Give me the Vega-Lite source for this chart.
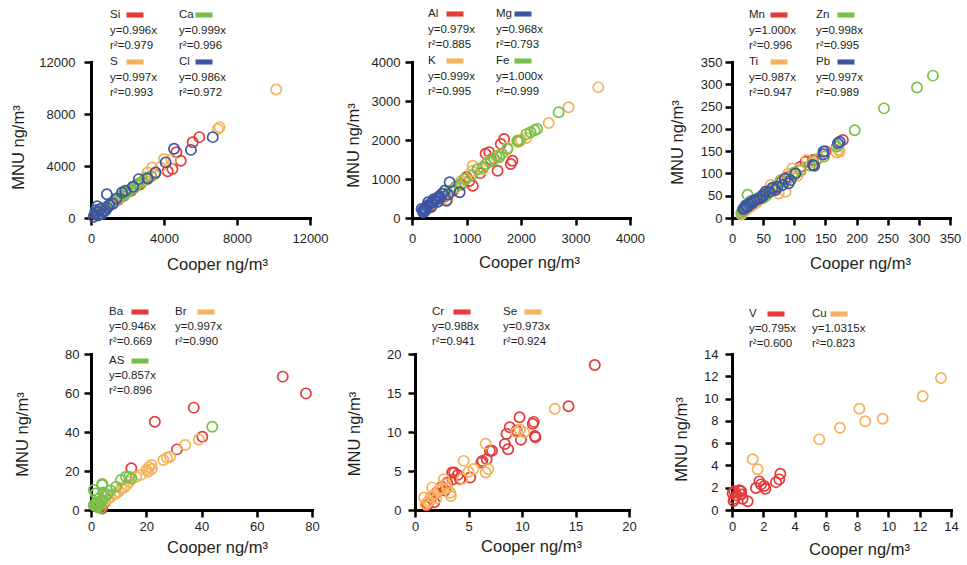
{
"$schema": "https://vega.github.io/schema/vega-lite/v6.json",
"padding": {"left": 10, "top": 8, "right": 5, "bottom": 5},
"bounds": "flush",
"spacing": 292,
"datasets": {
"pts": [
{"p":1,"el":"Si","x":5935,"y":6220},{"p":1,"el":"Si","x":5570,"y":5830},{"p":1,"el":"Si","x":4680,"y":5060},{"p":1,"el":"Si","x":4920,"y":4410},{"p":1,"el":"Si","x":4460,"y":3770},{"p":1,"el":"Si","x":4200,"y":3600},{"p":1,"el":"Si","x":3500,"y":3400},{"p":1,"el":"Si","x":3100,"y":3000},{"p":1,"el":"Si","x":2700,"y":2600},{"p":1,"el":"Si","x":2200,"y":2100},{"p":1,"el":"Si","x":1800,"y":1700},{"p":1,"el":"Si","x":1500,"y":1400},{"p":1,"el":"Si","x":1100,"y":1050},{"p":1,"el":"Si","x":800,"y":700},{"p":1,"el":"Si","x":500,"y":450},{"p":1,"el":"Si","x":300,"y":250},
{"p":1,"el":"S","x":10150,"y":9880},{"p":1,"el":"S","x":7040,"y":6990},{"p":1,"el":"S","x":6950,"y":6850},{"p":1,"el":"S","x":4400,"y":4500},{"p":1,"el":"S","x":4000,"y":4540},{"p":1,"el":"S","x":3800,"y":3900},{"p":1,"el":"S","x":3350,"y":3890},{"p":1,"el":"S","x":3100,"y":3500},{"p":1,"el":"S","x":2900,"y":2950},{"p":1,"el":"S","x":2000,"y":2050},{"p":1,"el":"S","x":1500,"y":1450},{"p":1,"el":"S","x":1000,"y":1000},{"p":1,"el":"S","x":700,"y":650},{"p":1,"el":"S","x":400,"y":400},
{"p":1,"el":"Ca","x":3300,"y":3200},{"p":1,"el":"Ca","x":3000,"y":3120},{"p":1,"el":"Ca","x":2800,"y":2750},{"p":1,"el":"Ca","x":2600,"y":2650},{"p":1,"el":"Ca","x":2500,"y":2550},{"p":1,"el":"Ca","x":2400,"y":2350},{"p":1,"el":"Ca","x":2200,"y":2250},{"p":1,"el":"Ca","x":2000,"y":2000},{"p":1,"el":"Ca","x":1900,"y":1900},{"p":1,"el":"Ca","x":1800,"y":1750},{"p":1,"el":"Ca","x":1600,"y":1650},{"p":1,"el":"Ca","x":1400,"y":1400},{"p":1,"el":"Ca","x":1300,"y":1300},{"p":1,"el":"Ca","x":1200,"y":1250},{"p":1,"el":"Ca","x":1000,"y":950},{"p":1,"el":"Ca","x":800,"y":850},{"p":1,"el":"Ca","x":600,"y":600},{"p":1,"el":"Ca","x":400,"y":420},
{"p":1,"el":"Cl","x":6670,"y":6220},{"p":1,"el":"Cl","x":5475,"y":5240},{"p":1,"el":"Cl","x":4550,"y":5320},{"p":1,"el":"Cl","x":4090,"y":4280},{"p":1,"el":"Cl","x":3540,"y":3510},{"p":1,"el":"Cl","x":3100,"y":3050},{"p":1,"el":"Cl","x":2620,"y":2990},{"p":1,"el":"Cl","x":2300,"y":2400},{"p":1,"el":"Cl","x":1880,"y":2090},{"p":1,"el":"Cl","x":1700,"y":1960},{"p":1,"el":"Cl","x":1400,"y":1500},{"p":1,"el":"Cl","x":1200,"y":1100},{"p":1,"el":"Cl","x":1000,"y":1000},{"p":1,"el":"Cl","x":870,"y":1830},{"p":1,"el":"Cl","x":900,"y":800},{"p":1,"el":"Cl","x":800,"y":600},{"p":1,"el":"Cl","x":700,"y":500},{"p":1,"el":"Cl","x":500,"y":700},{"p":1,"el":"Cl","x":350,"y":900},{"p":1,"el":"Cl","x":250,"y":600},{"p":1,"el":"Cl","x":300,"y":450},{"p":1,"el":"Cl","x":600,"y":300},{"p":1,"el":"Cl","x":400,"y":200},{"p":1,"el":"Cl","x":200,"y":300},{"p":1,"el":"Cl","x":150,"y":100},
{"p":2,"el":"Al","x":1690,"y":2026},{"p":2,"el":"Al","x":1630,"y":1900},{"p":2,"el":"Al","x":1418,"y":1684},{"p":2,"el":"Al","x":1350,"y":1650},{"p":2,"el":"Al","x":1842,"y":1470},{"p":2,"el":"Al","x":1812,"y":1385},{"p":2,"el":"Al","x":1570,"y":1213},{"p":2,"el":"Al","x":1450,"y":1500},{"p":2,"el":"Al","x":1250,"y":1150},{"p":2,"el":"Al","x":1115,"y":828},{"p":2,"el":"Al","x":1050,"y":950},{"p":2,"el":"Al","x":1000,"y":1050},{"p":2,"el":"Al","x":900,"y":850},{"p":2,"el":"Al","x":750,"y":700},{"p":2,"el":"Al","x":600,"y":550},{"p":2,"el":"Al","x":500,"y":500},{"p":2,"el":"Al","x":450,"y":400},{"p":2,"el":"Al","x":350,"y":300},{"p":2,"el":"Al","x":300,"y":280},{"p":2,"el":"Al","x":250,"y":200},
{"p":2,"el":"K","x":3418,"y":3350},{"p":2,"el":"K","x":2873,"y":2838},{"p":2,"el":"K","x":2509,"y":2436},{"p":2,"el":"K","x":2100,"y":2050},{"p":2,"el":"K","x":2000,"y":2000},{"p":2,"el":"K","x":1950,"y":1950},{"p":2,"el":"K","x":1750,"y":1800},{"p":2,"el":"K","x":1600,"y":1600},{"p":2,"el":"K","x":1400,"y":1450},{"p":2,"el":"K","x":1300,"y":1250},{"p":2,"el":"K","x":1115,"y":1342},{"p":2,"el":"K","x":1100,"y":1200},{"p":2,"el":"K","x":1000,"y":1000},{"p":2,"el":"K","x":900,"y":950},{"p":2,"el":"K","x":800,"y":780},{"p":2,"el":"K","x":650,"y":600},{"p":2,"el":"K","x":650,"y":480},{"p":2,"el":"K","x":500,"y":500},{"p":2,"el":"K","x":400,"y":380},{"p":2,"el":"K","x":300,"y":320},
{"p":2,"el":"Fe","x":2691,"y":2710},{"p":2,"el":"Fe","x":2297,"y":2282},{"p":2,"el":"Fe","x":2250,"y":2250},{"p":2,"el":"Fe","x":2176,"y":2197},{"p":2,"el":"Fe","x":2100,"y":2150},{"p":2,"el":"Fe","x":1964,"y":1983},{"p":2,"el":"Fe","x":1933,"y":1983},{"p":2,"el":"Fe","x":1751,"y":1769},{"p":2,"el":"Fe","x":1650,"y":1650},{"p":2,"el":"Fe","x":1600,"y":1560},{"p":2,"el":"Fe","x":1550,"y":1600},{"p":2,"el":"Fe","x":1509,"y":1513},{"p":2,"el":"Fe","x":1450,"y":1450},{"p":2,"el":"Fe","x":1357,"y":1385},{"p":2,"el":"Fe","x":1300,"y":1300},{"p":2,"el":"Fe","x":1200,"y":1250},{"p":2,"el":"Fe","x":1100,"y":1100},{"p":2,"el":"Fe","x":964,"y":1000},{"p":2,"el":"Fe","x":900,"y":880},{"p":2,"el":"Fe","x":800,"y":800},{"p":2,"el":"Fe","x":700,"y":700},{"p":2,"el":"Fe","x":600,"y":620},
{"p":2,"el":"Mg","x":691,"y":915},{"p":2,"el":"Mg","x":873,"y":659},{"p":2,"el":"Mg","x":631,"y":444},{"p":2,"el":"Mg","x":660,"y":600},{"p":2,"el":"Mg","x":600,"y":700},{"p":2,"el":"Mg","x":550,"y":620},{"p":2,"el":"Mg","x":520,"y":520},{"p":2,"el":"Mg","x":500,"y":560},{"p":2,"el":"Mg","x":480,"y":420},{"p":2,"el":"Mg","x":450,"y":500},{"p":2,"el":"Mg","x":420,"y":450},{"p":2,"el":"Mg","x":400,"y":480},{"p":2,"el":"Mg","x":380,"y":400},{"p":2,"el":"Mg","x":350,"y":380},{"p":2,"el":"Mg","x":350,"y":280},{"p":2,"el":"Mg","x":300,"y":330},{"p":2,"el":"Mg","x":297,"y":402},{"p":2,"el":"Mg","x":270,"y":300},{"p":2,"el":"Mg","x":250,"y":250},{"p":2,"el":"Mg","x":230,"y":220},{"p":2,"el":"Mg","x":220,"y":160},{"p":2,"el":"Mg","x":206,"y":146},{"p":2,"el":"Mg","x":200,"y":190},{"p":2,"el":"Mg","x":176,"y":231},
{"p":3,"el":"Mn","x":178,"y":175},{"p":3,"el":"Mn","x":150,"y":150},{"p":3,"el":"Mn","x":130,"y":130},{"p":3,"el":"Mn","x":118,"y":126},{"p":3,"el":"Mn","x":110,"y":115},{"p":3,"el":"Mn","x":100,"y":98},{"p":3,"el":"Mn","x":90,"y":92},{"p":3,"el":"Mn","x":80,"y":82},{"p":3,"el":"Mn","x":70,"y":68},{"p":3,"el":"Mn","x":65,"y":63},{"p":3,"el":"Mn","x":60,"y":60},{"p":3,"el":"Mn","x":55,"y":55},{"p":3,"el":"Mn","x":50,"y":48},{"p":3,"el":"Mn","x":45,"y":44},{"p":3,"el":"Mn","x":40,"y":40},{"p":3,"el":"Mn","x":35,"y":36},{"p":3,"el":"Mn","x":30,"y":30},{"p":3,"el":"Mn","x":25,"y":27},{"p":3,"el":"Mn","x":22,"y":22},{"p":3,"el":"Mn","x":18,"y":18},
{"p":3,"el":"Ti","x":171,"y":153},{"p":3,"el":"Ti","x":168,"y":147},{"p":3,"el":"Ti","x":173,"y":149},{"p":3,"el":"Ti","x":140,"y":135},{"p":3,"el":"Ti","x":130,"y":125},{"p":3,"el":"Ti","x":120,"y":130},{"p":3,"el":"Ti","x":110,"y":105},{"p":3,"el":"Ti","x":105,"y":95},{"p":3,"el":"Ti","x":97,"y":111},{"p":3,"el":"Ti","x":90,"y":100},{"p":3,"el":"Ti","x":86,"y":82},{"p":3,"el":"Ti","x":86,"y":59},{"p":3,"el":"Ti","x":75,"y":55},{"p":3,"el":"Ti","x":62,"y":74},{"p":3,"el":"Ti","x":55,"y":60},{"p":3,"el":"Ti","x":48,"y":45},{"p":3,"el":"Ti","x":40,"y":35},{"p":3,"el":"Ti","x":35,"y":30},{"p":3,"el":"Ti","x":30,"y":25},{"p":3,"el":"Ti","x":25,"y":20},{"p":3,"el":"Ti","x":20,"y":15},{"p":3,"el":"Ti","x":17,"y":11},{"p":3,"el":"Ti","x":15,"y":8},
{"p":3,"el":"Zn","x":322.6,"y":319.4},{"p":3,"el":"Zn","x":297,"y":293},{"p":3,"el":"Zn","x":244,"y":246},{"p":3,"el":"Zn","x":197,"y":197},{"p":3,"el":"Zn","x":171,"y":164},{"p":3,"el":"Zn","x":168,"y":160},{"p":3,"el":"Zn","x":148,"y":138},{"p":3,"el":"Zn","x":135,"y":130},{"p":3,"el":"Zn","x":125,"y":118},{"p":3,"el":"Zn","x":110,"y":108},{"p":3,"el":"Zn","x":100,"y":102},{"p":3,"el":"Zn","x":90,"y":88},{"p":3,"el":"Zn","x":78,"y":85},{"p":3,"el":"Zn","x":70,"y":72},{"p":3,"el":"Zn","x":60,"y":62},{"p":3,"el":"Zn","x":55,"y":50},{"p":3,"el":"Zn","x":50,"y":45},{"p":3,"el":"Zn","x":45,"y":48},{"p":3,"el":"Zn","x":40,"y":42},{"p":3,"el":"Zn","x":35,"y":35},{"p":3,"el":"Zn","x":30,"y":38},{"p":3,"el":"Zn","x":25,"y":52},{"p":3,"el":"Zn","x":25,"y":28},{"p":3,"el":"Zn","x":20,"y":20},{"p":3,"el":"Zn","x":18,"y":15},{"p":3,"el":"Zn","x":15,"y":12},
{"p":3,"el":"Pb","x":173,"y":171},{"p":3,"el":"Pb","x":170,"y":168},{"p":3,"el":"Pb","x":147,"y":149},{"p":3,"el":"Pb","x":147,"y":143},{"p":3,"el":"Pb","x":132,"y":117},{"p":3,"el":"Pb","x":130,"y":119},{"p":3,"el":"Pb","x":102,"y":100},{"p":3,"el":"Pb","x":94,"y":85},{"p":3,"el":"Pb","x":91,"y":78},{"p":3,"el":"Pb","x":85,"y":88},{"p":3,"el":"Pb","x":81,"y":74},{"p":3,"el":"Pb","x":73,"y":70},{"p":3,"el":"Pb","x":70,"y":63},{"p":3,"el":"Pb","x":65,"y":68},{"p":3,"el":"Pb","x":60,"y":58},{"p":3,"el":"Pb","x":54,"y":59},{"p":3,"el":"Pb","x":50,"y":52},{"p":3,"el":"Pb","x":49,"y":48},{"p":3,"el":"Pb","x":45,"y":44},{"p":3,"el":"Pb","x":40,"y":42},{"p":3,"el":"Pb","x":36,"y":40},{"p":3,"el":"Pb","x":35,"y":38},{"p":3,"el":"Pb","x":32,"y":33},{"p":3,"el":"Pb","x":30,"y":35},{"p":3,"el":"Pb","x":28,"y":30},{"p":3,"el":"Pb","x":25,"y":25},{"p":3,"el":"Pb","x":23,"y":25},{"p":3,"el":"Pb","x":22,"y":28},{"p":3,"el":"Pb","x":20,"y":22},{"p":3,"el":"Pb","x":18,"y":20},
{"p":4,"el":"Ba","x":69.4,"y":68.4},{"p":4,"el":"Ba","x":77.8,"y":59.8},{"p":4,"el":"Ba","x":37.2,"y":52.5},{"p":4,"el":"Ba","x":23.1,"y":45.3},{"p":4,"el":"Ba","x":40.3,"y":37.6},{"p":4,"el":"Ba","x":31.1,"y":31.1},{"p":4,"el":"Ba","x":14.6,"y":21.4},{"p":4,"el":"Ba","x":5.0,"y":4.0},{"p":4,"el":"Ba","x":3.5,"y":2.0},{"p":4,"el":"Ba","x":3.0,"y":3.0},{"p":4,"el":"Ba","x":2.5,"y":1.5},{"p":4,"el":"Ba","x":4.0,"y":0.8},
{"p":4,"el":"Br","x":39,"y":36.2},{"p":4,"el":"Br","x":34.1,"y":33.3},{"p":4,"el":"Br","x":28.6,"y":27.3},{"p":4,"el":"Br","x":27.5,"y":26.8},{"p":4,"el":"Br","x":26.2,"y":25.6},{"p":4,"el":"Br","x":21.9,"y":23.1},{"p":4,"el":"Br","x":21,"y":22},{"p":4,"el":"Br","x":22,"y":21},{"p":4,"el":"Br","x":20.7,"y":19.6},{"p":4,"el":"Br","x":20,"y":20.5},{"p":4,"el":"Br","x":18,"y":18},{"p":4,"el":"Br","x":16.4,"y":17.1},{"p":4,"el":"Br","x":14,"y":14.5},{"p":4,"el":"Br","x":13,"y":13},{"p":4,"el":"Br","x":12,"y":11.5},{"p":4,"el":"Br","x":11,"y":11},{"p":4,"el":"Br","x":10,"y":9.5},{"p":4,"el":"Br","x":9,"y":8.5},{"p":4,"el":"Br","x":8.5,"y":8},{"p":4,"el":"Br","x":7,"y":6.5},{"p":4,"el":"Br","x":6,"y":5.5},{"p":4,"el":"Br","x":5,"y":4.5},{"p":4,"el":"Br","x":4,"y":3.5},{"p":4,"el":"Br","x":3,"y":3},{"p":4,"el":"Br","x":2,"y":2},
{"p":4,"el":"AS","x":43.9,"y":42.7},{"p":4,"el":"AS","x":14.6,"y":16.2},{"p":4,"el":"AS","x":13.8,"y":17.1},{"p":4,"el":"AS","x":12.7,"y":17.1},{"p":4,"el":"AS","x":10.8,"y":15.4},{"p":4,"el":"AS","x":9.1,"y":12},{"p":4,"el":"AS","x":7,"y":10},{"p":4,"el":"AS","x":6,"y":8},{"p":4,"el":"AS","x":5,"y":7},{"p":4,"el":"AS","x":4.5,"y":9},{"p":4,"el":"AS","x":4.1,"y":13.3},{"p":4,"el":"AS","x":4,"y":12.8},{"p":4,"el":"AS","x":4,"y":5},{"p":4,"el":"AS","x":3.5,"y":1},{"p":4,"el":"AS","x":3,"y":6},{"p":4,"el":"AS","x":3,"y":3},{"p":4,"el":"AS","x":2.5,"y":1.5},{"p":4,"el":"AS","x":2,"y":4},{"p":4,"el":"AS","x":2,"y":3},{"p":4,"el":"AS","x":1.7,"y":8.5},{"p":4,"el":"AS","x":1.5,"y":2},{"p":4,"el":"AS","x":1,"y":2.5},{"p":4,"el":"AS","x":1.0,"y":10.3},
{"p":5,"el":"Cr","x":16.8,"y":18.6},{"p":5,"el":"Cr","x":14.35,"y":13.3},{"p":5,"el":"Cr","x":9.77,"y":11.9},{"p":5,"el":"Cr","x":11.0,"y":11.05},{"p":5,"el":"Cr","x":11.1,"y":11.3},{"p":5,"el":"Cr","x":8.85,"y":10.6},{"p":5,"el":"Cr","x":11.25,"y":9.33},{"p":5,"el":"Cr","x":11.2,"y":9.5},{"p":5,"el":"Cr","x":8.55,"y":9.76},{"p":5,"el":"Cr","x":9.5,"y":10.2},{"p":5,"el":"Cr","x":9.9,"y":9.0},{"p":5,"el":"Cr","x":8.4,"y":8.47},{"p":5,"el":"Cr","x":8.7,"y":7.8},{"p":5,"el":"Cr","x":7.0,"y":7.6},{"p":5,"el":"Cr","x":7.2,"y":7.6},{"p":5,"el":"Cr","x":6.7,"y":6.5},{"p":5,"el":"Cr","x":6.3,"y":6.3},{"p":5,"el":"Cr","x":6.2,"y":6.1},{"p":5,"el":"Cr","x":5.16,"y":4.17},{"p":5,"el":"Cr","x":4.2,"y":3.96},{"p":5,"el":"Cr","x":3.47,"y":4.81},{"p":5,"el":"Cr","x":3.66,"y":4.8},{"p":5,"el":"Cr","x":4.0,"y":4.5},{"p":5,"el":"Cr","x":3.5,"y":3.9},{"p":5,"el":"Cr","x":3.0,"y":3.5},{"p":5,"el":"Cr","x":2.8,"y":2.5},{"p":5,"el":"Cr","x":2.5,"y":3},{"p":5,"el":"Cr","x":2.0,"y":2.2},{"p":5,"el":"Cr","x":1.8,"y":1.0},{"p":5,"el":"Cr","x":1.5,"y":1.5},{"p":5,"el":"Cr","x":1.2,"y":0.8},{"p":5,"el":"Cr","x":1.1,"y":0.6},
{"p":5,"el":"Se","x":13.06,"y":12.99},{"p":5,"el":"Se","x":10.2,"y":9.97},{"p":5,"el":"Se","x":9.8,"y":10.3},{"p":5,"el":"Se","x":9.47,"y":9.97},{"p":5,"el":"Se","x":6.6,"y":8.5},{"p":5,"el":"Se","x":6.85,"y":5.25},{"p":5,"el":"Se","x":6.6,"y":4.8},{"p":5,"el":"Se","x":5.47,"y":5.25},{"p":5,"el":"Se","x":5.0,"y":4.9},{"p":5,"el":"Se","x":4.55,"y":6.3},{"p":5,"el":"Se","x":4.4,"y":4.0},{"p":5,"el":"Se","x":3.35,"y":1.8},{"p":5,"el":"Se","x":3.3,"y":2.2},{"p":5,"el":"Se","x":3.0,"y":2.8},{"p":5,"el":"Se","x":2.9,"y":3.3},{"p":5,"el":"Se","x":2.7,"y":3.96},{"p":5,"el":"Se","x":2.5,"y":2.8},{"p":5,"el":"Se","x":2.2,"y":2.5},{"p":5,"el":"Se","x":2.0,"y":1.5},{"p":5,"el":"Se","x":1.8,"y":2.0},{"p":5,"el":"Se","x":1.6,"y":2.9},{"p":5,"el":"Se","x":1.5,"y":1.7},{"p":5,"el":"Se","x":1.3,"y":1.2},{"p":5,"el":"Se","x":1.2,"y":1.0},{"p":5,"el":"Se","x":1.0,"y":0.73},{"p":5,"el":"Se","x":0.86,"y":1.6},
{"p":6,"el":"V","x":3.09,"y":3.26},{"p":6,"el":"V","x":3.02,"y":2.75},{"p":6,"el":"V","x":2.81,"y":2.5},{"p":6,"el":"V","x":1.75,"y":2.57},{"p":6,"el":"V","x":1.85,"y":2.3},{"p":6,"el":"V","x":2.06,"y":2.15},{"p":6,"el":"V","x":1.53,"y":1.97},{"p":6,"el":"V","x":2.13,"y":1.91},{"p":6,"el":"V","x":0.58,"y":1.68},{"p":6,"el":"V","x":0.15,"y":1.68},{"p":6,"el":"V","x":0.47,"y":1.77},{"p":6,"el":"V","x":0.04,"y":1.5},{"p":6,"el":"V","x":0.15,"y":1.01},{"p":6,"el":"V","x":0.68,"y":1.01},{"p":6,"el":"V","x":1.0,"y":0.78},{"p":6,"el":"V","x":0.3,"y":1.3},{"p":6,"el":"V","x":0.1,"y":0.8},{"p":6,"el":"V","x":0.6,"y":1.4},
{"p":6,"el":"Cu","x":13.36,"y":11.84},{"p":6,"el":"Cu","x":12.19,"y":10.2},{"p":6,"el":"Cu","x":8.14,"y":9.09},{"p":6,"el":"Cu","x":8.52,"y":7.96},{"p":6,"el":"Cu","x":9.63,"y":8.19},{"p":6,"el":"Cu","x":6.9,"y":7.38},{"p":6,"el":"Cu","x":5.58,"y":6.34},{"p":6,"el":"Cu","x":1.32,"y":4.55},{"p":6,"el":"Cu","x":1.64,"y":3.65}
],
"leg": [
{"p":1,"el":"Si","eq":"y=0.996x","r2":"r²=0.979","c":0,"r":0},{"p":1,"el":"Ca","eq":"y=0.999x","r2":"r²=0.996","c":1,"r":0},{"p":1,"el":"S","eq":"y=0.997x","r2":"r²=0.993","c":0,"r":1},{"p":1,"el":"Cl","eq":"y=0.986x","r2":"r²=0.972","c":1,"r":1},
{"p":2,"el":"Al","eq":"y=0.979x","r2":"r²=0.885","c":0,"r":0},{"p":2,"el":"Mg","eq":"y=0.968x","r2":"r²=0.793","c":1,"r":0},{"p":2,"el":"K","eq":"y=0.999x","r2":"r²=0.995","c":0,"r":1},{"p":2,"el":"Fe","eq":"y=1.000x","r2":"r²=0.999","c":1,"r":1},
{"p":3,"el":"Mn","eq":"y=1.000x","r2":"r²=0.996","c":0,"r":0},{"p":3,"el":"Zn","eq":"y=0.998x","r2":"r²=0.995","c":1,"r":0},{"p":3,"el":"Ti","eq":"y=0.987x","r2":"r²=0.947","c":0,"r":1},{"p":3,"el":"Pb","eq":"y=0.997x","r2":"r²=0.989","c":1,"r":1},
{"p":4,"el":"Ba","eq":"y=0.946x","r2":"r²=0.669","c":0,"r":0},{"p":4,"el":"Br","eq":"y=0.997x","r2":"r²=0.990","c":1,"r":0},{"p":4,"el":"AS","eq":"y=0.857x","r2":"r²=0.896","c":0,"r":1},
{"p":5,"el":"Cr","eq":"y=0.988x","r2":"r²=0.941","c":0,"r":0},{"p":5,"el":"Se","eq":"y=0.973x","r2":"r²=0.924","c":1,"r":0},
{"p":6,"el":"V","eq":"y=0.795x","r2":"r²=0.600","c":0,"r":0},{"p":6,"el":"Cu","eq":"y=1.0315x","r2":"r²=0.823","c":1,"r":0}
]
},
"vconcat": [
{"hconcat": [
{"width": 219, "height": 156, "resolve": {"scale": {"x": "independent", "y": "independent"}},
 "layer": [
  {"data": {"name": "pts"}, "transform": [{"filter": "datum.p == 1"}], "mark": {"type": "point", "filled": false, "size": 105, "strokeWidth": 1.7, "opacity": 1},
   "encoding": {"x": {"field": "x", "type": "quantitative", "scale": {"domain": [0, 12000], "nice": false}, "axis": {"values": [0, 4000, 8000, 12000], "format": "d", "title": "Cooper ng/m³", "titleX": 126, "titleY": 46, "titleBaseline": "middle", "labelPadding": 7}},
    "y": {"field": "y", "type": "quantitative", "scale": {"domain": [0, 12000], "nice": false}, "axis": {"values": [0, 4000, 8000, 12000], "format": "d", "title": "MNU ng/m³", "titleX": -73, "titleY": 85, "titleBaseline": "middle", "labelPadding": 9}},
    "color": {"field": "el", "type": "nominal", "scale": {"domain": ["Si","Ca","S","Cl","Al","Mg","K","Fe","Mn","Zn","Ti","Pb","Ba","Br","AS","Cr","Se","V","Cu"], "range": ["#e5393a","#7bbf4b","#f4b25b","#3c55a4","#e5393a","#3c55a4","#f4b25b","#7bbf4b","#e5393a","#7bbf4b","#f4b25b","#3c55a4","#e5393a","#f4b25b","#7bbf4b","#e5393a","#f4b25b","#e5393a","#f4b25b"]}, "legend": null}}},
  {"data": {"name": "leg"}, "transform": [{"filter": "datum.p == 1"}], "mark": {"type": "text", "align": "left", "baseline": "middle", "fontSize": 11.5, "font": "Liberation Sans", "color": "#231f20"},
   "encoding": {"x": {"field": "c", "type": "quantitative", "scale": {"domain": [0, 1], "range": [19, 88]}, "axis": null}, "y": {"field": "r", "type": "quantitative", "scale": {"domain": [0, 1], "range": [-47, 0]}, "axis": null}, "text": {"field": "el"}}},
  {"data": {"name": "leg"}, "transform": [{"filter": "datum.p == 1"}], "mark": {"type": "text", "align": "left", "baseline": "middle", "fontSize": 11.5, "font": "Liberation Sans", "color": "#231f20", "dy": 15.5},
   "encoding": {"x": {"field": "c", "type": "quantitative", "scale": {"domain": [0, 1], "range": [19, 88]}, "axis": null}, "y": {"field": "r", "type": "quantitative", "scale": {"domain": [0, 1], "range": [-47, 0]}, "axis": null}, "text": {"field": "eq"}}},
  {"data": {"name": "leg"}, "transform": [{"filter": "datum.p == 1"}], "mark": {"type": "text", "align": "left", "baseline": "middle", "fontSize": 11.5, "font": "Liberation Sans", "color": "#231f20", "dy": 31},
   "encoding": {"x": {"field": "c", "type": "quantitative", "scale": {"domain": [0, 1], "range": [19, 88]}, "axis": null}, "y": {"field": "r", "type": "quantitative", "scale": {"domain": [0, 1], "range": [-47, 0]}, "axis": null}, "text": {"field": "r2"}}},
  {"data": {"name": "leg"}, "transform": [{"filter": "datum.p == 1"}], "mark": {"type": "point", "shape": "M-1,-0.3L1,-0.3L1,0.3L-1,0.3Z", "size": 289, "filled": true, "opacity": 1, "strokeWidth": 0, "xOffset": 25},
   "encoding": {"x": {"field": "c", "type": "quantitative", "scale": {"domain": [0, 1], "range": [19, 88]}, "axis": null}, "y": {"field": "r", "type": "quantitative", "scale": {"domain": [0, 1], "range": [-47, 0]}, "axis": null},
    "color": {"field": "el", "type": "nominal", "scale": {"domain": ["Si","Ca","S","Cl","Al","Mg","K","Fe","Mn","Zn","Ti","Pb","Ba","Br","AS","Cr","Se","V","Cu"], "range": ["#e5393a","#7bbf4b","#f4b25b","#3c55a4","#e5393a","#3c55a4","#f4b25b","#7bbf4b","#e5393a","#7bbf4b","#f4b25b","#3c55a4","#e5393a","#f4b25b","#7bbf4b","#e5393a","#f4b25b","#e5393a","#f4b25b"]}, "legend": null}}}
 ]},
{"width": 218, "height": 156, "resolve": {"scale": {"x": "independent", "y": "independent"}},
 "layer": [
  {"data": {"name": "pts"}, "transform": [{"filter": "datum.p == 2"}], "mark": {"type": "point", "filled": false, "size": 105, "strokeWidth": 1.7, "opacity": 1},
   "encoding": {"x": {"field": "x", "type": "quantitative", "scale": {"domain": [0, 4000], "nice": false}, "axis": {"values": [0, 1000, 2000, 3000, 4000], "format": "d", "title": "Cooper ng/m³", "titleX": 117, "titleY": 44, "titleBaseline": "middle", "labelPadding": 7}},
    "y": {"field": "y", "type": "quantitative", "scale": {"domain": [0, 4000], "nice": false}, "axis": {"values": [0, 1000, 2000, 3000, 4000], "format": "d", "title": "MNU ng/m³", "titleX": -59, "titleY": 83, "titleBaseline": "middle", "labelPadding": 5}},
    "color": {"field": "el", "type": "nominal", "scale": {"domain": ["Si","Ca","S","Cl","Al","Mg","K","Fe","Mn","Zn","Ti","Pb","Ba","Br","AS","Cr","Se","V","Cu"], "range": ["#e5393a","#7bbf4b","#f4b25b","#3c55a4","#e5393a","#3c55a4","#f4b25b","#7bbf4b","#e5393a","#7bbf4b","#f4b25b","#3c55a4","#e5393a","#f4b25b","#7bbf4b","#e5393a","#f4b25b","#e5393a","#f4b25b"]}, "legend": null}}},
  {"data": {"name": "leg"}, "transform": [{"filter": "datum.p == 2"}], "mark": {"type": "text", "align": "left", "baseline": "middle", "fontSize": 11.5, "font": "Liberation Sans", "color": "#231f20"},
   "encoding": {"x": {"field": "c", "type": "quantitative", "scale": {"domain": [0, 1], "range": [16, 84]}, "axis": null}, "y": {"field": "r", "type": "quantitative", "scale": {"domain": [0, 1], "range": [-48, -1]}, "axis": null}, "text": {"field": "el"}}},
  {"data": {"name": "leg"}, "transform": [{"filter": "datum.p == 2"}], "mark": {"type": "text", "align": "left", "baseline": "middle", "fontSize": 11.5, "font": "Liberation Sans", "color": "#231f20", "dy": 15.5},
   "encoding": {"x": {"field": "c", "type": "quantitative", "scale": {"domain": [0, 1], "range": [16, 84]}, "axis": null}, "y": {"field": "r", "type": "quantitative", "scale": {"domain": [0, 1], "range": [-48, -1]}, "axis": null}, "text": {"field": "eq"}}},
  {"data": {"name": "leg"}, "transform": [{"filter": "datum.p == 2"}], "mark": {"type": "text", "align": "left", "baseline": "middle", "fontSize": 11.5, "font": "Liberation Sans", "color": "#231f20", "dy": 31},
   "encoding": {"x": {"field": "c", "type": "quantitative", "scale": {"domain": [0, 1], "range": [16, 84]}, "axis": null}, "y": {"field": "r", "type": "quantitative", "scale": {"domain": [0, 1], "range": [-48, -1]}, "axis": null}, "text": {"field": "r2"}}},
  {"data": {"name": "leg"}, "transform": [{"filter": "datum.p == 2"}], "mark": {"type": "point", "shape": "M-1,-0.3L1,-0.3L1,0.3L-1,0.3Z", "size": 289, "filled": true, "opacity": 1, "strokeWidth": 0, "xOffset": 27},
   "encoding": {"x": {"field": "c", "type": "quantitative", "scale": {"domain": [0, 1], "range": [16, 84]}, "axis": null}, "y": {"field": "r", "type": "quantitative", "scale": {"domain": [0, 1], "range": [-48, -1]}, "axis": null},
    "color": {"field": "el", "type": "nominal", "scale": {"domain": ["Si","Ca","S","Cl","Al","Mg","K","Fe","Mn","Zn","Ti","Pb","Ba","Br","AS","Cr","Se","V","Cu"], "range": ["#e5393a","#7bbf4b","#f4b25b","#3c55a4","#e5393a","#3c55a4","#f4b25b","#7bbf4b","#e5393a","#7bbf4b","#f4b25b","#3c55a4","#e5393a","#f4b25b","#7bbf4b","#e5393a","#f4b25b","#e5393a","#f4b25b"]}, "legend": null}}}
 ]},
{"width": 218, "height": 156, "resolve": {"scale": {"x": "independent", "y": "independent"}},
 "layer": [
  {"data": {"name": "pts"}, "transform": [{"filter": "datum.p == 3"}], "mark": {"type": "point", "filled": false, "size": 105, "strokeWidth": 1.7, "opacity": 1},
   "encoding": {"x": {"field": "x", "type": "quantitative", "scale": {"domain": [0, 350], "nice": false}, "axis": {"values": [0, 50, 100, 150, 200, 250, 300, 350], "format": "d", "title": "Cooper ng/m³", "titleX": 128, "titleY": 45, "titleBaseline": "middle", "labelPadding": 7}},
    "y": {"field": "y", "type": "quantitative", "scale": {"domain": [0, 350], "nice": false}, "axis": {"values": [0, 50, 100, 150, 200, 250, 300, 350], "format": "d", "title": "MNU ng/m³", "titleX": -55, "titleY": 80, "titleBaseline": "middle", "labelPadding": 3}},
    "color": {"field": "el", "type": "nominal", "scale": {"domain": ["Si","Ca","S","Cl","Al","Mg","K","Fe","Mn","Zn","Ti","Pb","Ba","Br","AS","Cr","Se","V","Cu"], "range": ["#e5393a","#7bbf4b","#f4b25b","#3c55a4","#e5393a","#3c55a4","#f4b25b","#7bbf4b","#e5393a","#7bbf4b","#f4b25b","#3c55a4","#e5393a","#f4b25b","#7bbf4b","#e5393a","#f4b25b","#e5393a","#f4b25b"]}, "legend": null}}},
  {"data": {"name": "leg"}, "transform": [{"filter": "datum.p == 3"}], "mark": {"type": "text", "align": "left", "baseline": "middle", "fontSize": 11.5, "font": "Liberation Sans", "color": "#231f20"},
   "encoding": {"x": {"field": "c", "type": "quantitative", "scale": {"domain": [0, 1], "range": [17, 84]}, "axis": null}, "y": {"field": "r", "type": "quantitative", "scale": {"domain": [0, 1], "range": [-47, 0]}, "axis": null}, "text": {"field": "el"}}},
  {"data": {"name": "leg"}, "transform": [{"filter": "datum.p == 3"}], "mark": {"type": "text", "align": "left", "baseline": "middle", "fontSize": 11.5, "font": "Liberation Sans", "color": "#231f20", "dy": 15.5},
   "encoding": {"x": {"field": "c", "type": "quantitative", "scale": {"domain": [0, 1], "range": [17, 84]}, "axis": null}, "y": {"field": "r", "type": "quantitative", "scale": {"domain": [0, 1], "range": [-47, 0]}, "axis": null}, "text": {"field": "eq"}}},
  {"data": {"name": "leg"}, "transform": [{"filter": "datum.p == 3"}], "mark": {"type": "text", "align": "left", "baseline": "middle", "fontSize": 11.5, "font": "Liberation Sans", "color": "#231f20", "dy": 31},
   "encoding": {"x": {"field": "c", "type": "quantitative", "scale": {"domain": [0, 1], "range": [17, 84]}, "axis": null}, "y": {"field": "r", "type": "quantitative", "scale": {"domain": [0, 1], "range": [-47, 0]}, "axis": null}, "text": {"field": "r2"}}},
  {"data": {"name": "leg"}, "transform": [{"filter": "datum.p == 3"}], "mark": {"type": "point", "shape": "M-1,-0.3L1,-0.3L1,0.3L-1,0.3Z", "size": 289, "filled": true, "opacity": 1, "strokeWidth": 0, "xOffset": 30},
   "encoding": {"x": {"field": "c", "type": "quantitative", "scale": {"domain": [0, 1], "range": [17, 84]}, "axis": null}, "y": {"field": "r", "type": "quantitative", "scale": {"domain": [0, 1], "range": [-47, 0]}, "axis": null},
    "color": {"field": "el", "type": "nominal", "scale": {"domain": ["Si","Ca","S","Cl","Al","Mg","K","Fe","Mn","Zn","Ti","Pb","Ba","Br","AS","Cr","Se","V","Cu"], "range": ["#e5393a","#7bbf4b","#f4b25b","#3c55a4","#e5393a","#3c55a4","#f4b25b","#7bbf4b","#e5393a","#7bbf4b","#f4b25b","#3c55a4","#e5393a","#f4b25b","#7bbf4b","#e5393a","#f4b25b","#e5393a","#f4b25b"]}, "legend": null}}}
 ]}
], "spacing": 102, "bounds": "flush"},
{"hconcat": [
{"width": 221, "height": 156, "resolve": {"scale": {"x": "independent", "y": "independent"}},
 "layer": [
  {"data": {"name": "pts"}, "transform": [{"filter": "datum.p == 4"}], "mark": {"type": "point", "filled": false, "size": 105, "strokeWidth": 1.7, "opacity": 1},
   "encoding": {"x": {"field": "x", "type": "quantitative", "scale": {"domain": [0, 80], "nice": false}, "axis": {"values": [0, 20, 40, 60, 80], "format": "d", "title": "Cooper ng/m³", "titleX": 126, "titleY": 37, "titleBaseline": "middle", "labelPadding": 3}},
    "y": {"field": "y", "type": "quantitative", "scale": {"domain": [0, 80], "nice": false}, "axis": {"values": [0, 20, 40, 60, 80], "format": "d", "title": "MNU ng/m³", "titleX": -69, "titleY": 80, "titleBaseline": "middle", "labelPadding": 5}},
    "color": {"field": "el", "type": "nominal", "scale": {"domain": ["Si","Ca","S","Cl","Al","Mg","K","Fe","Mn","Zn","Ti","Pb","Ba","Br","AS","Cr","Se","V","Cu"], "range": ["#e5393a","#7bbf4b","#f4b25b","#3c55a4","#e5393a","#3c55a4","#f4b25b","#7bbf4b","#e5393a","#7bbf4b","#f4b25b","#3c55a4","#e5393a","#f4b25b","#7bbf4b","#e5393a","#f4b25b","#e5393a","#f4b25b"]}, "legend": null}}},
  {"data": {"name": "leg"}, "transform": [{"filter": "datum.p == 4"}], "mark": {"type": "text", "align": "left", "baseline": "middle", "fontSize": 11.5, "font": "Liberation Sans", "color": "#231f20"},
   "encoding": {"x": {"field": "c", "type": "quantitative", "scale": {"domain": [0, 1], "range": [18, 84]}, "axis": null}, "y": {"field": "r", "type": "quantitative", "scale": {"domain": [0, 1], "range": [-42, 7]}, "axis": null}, "text": {"field": "el"}}},
  {"data": {"name": "leg"}, "transform": [{"filter": "datum.p == 4"}], "mark": {"type": "text", "align": "left", "baseline": "middle", "fontSize": 11.5, "font": "Liberation Sans", "color": "#231f20", "dy": 15},
   "encoding": {"x": {"field": "c", "type": "quantitative", "scale": {"domain": [0, 1], "range": [18, 84]}, "axis": null}, "y": {"field": "r", "type": "quantitative", "scale": {"domain": [0, 1], "range": [-42, 7]}, "axis": null}, "text": {"field": "eq"}}},
  {"data": {"name": "leg"}, "transform": [{"filter": "datum.p == 4"}], "mark": {"type": "text", "align": "left", "baseline": "middle", "fontSize": 11.5, "font": "Liberation Sans", "color": "#231f20", "dy": 30},
   "encoding": {"x": {"field": "c", "type": "quantitative", "scale": {"domain": [0, 1], "range": [18, 84]}, "axis": null}, "y": {"field": "r", "type": "quantitative", "scale": {"domain": [0, 1], "range": [-42, 7]}, "axis": null}, "text": {"field": "r2"}}},
  {"data": {"name": "leg"}, "transform": [{"filter": "datum.p == 4"}], "mark": {"type": "point", "shape": "M-1,-0.3L1,-0.3L1,0.3L-1,0.3Z", "size": 289, "filled": true, "opacity": 1, "strokeWidth": 0, "xOffset": 31},
   "encoding": {"x": {"field": "c", "type": "quantitative", "scale": {"domain": [0, 1], "range": [18, 84]}, "axis": null}, "y": {"field": "r", "type": "quantitative", "scale": {"domain": [0, 1], "range": [-42, 7]}, "axis": null},
    "color": {"field": "el", "type": "nominal", "scale": {"domain": ["Si","Ca","S","Cl","Al","Mg","K","Fe","Mn","Zn","Ti","Pb","Ba","Br","AS","Cr","Se","V","Cu"], "range": ["#e5393a","#7bbf4b","#f4b25b","#3c55a4","#e5393a","#3c55a4","#f4b25b","#7bbf4b","#e5393a","#7bbf4b","#f4b25b","#3c55a4","#e5393a","#f4b25b","#7bbf4b","#e5393a","#f4b25b","#e5393a","#f4b25b"]}, "legend": null}}}
 ]},
{"width": 214, "height": 156, "resolve": {"scale": {"x": "independent", "y": "independent"}},
 "layer": [
  {"data": {"name": "pts"}, "transform": [{"filter": "datum.p == 5"}], "mark": {"type": "point", "filled": false, "size": 105, "strokeWidth": 1.7, "opacity": 1},
   "encoding": {"x": {"field": "x", "type": "quantitative", "scale": {"domain": [0, 20], "nice": false}, "axis": {"values": [0, 5, 10, 15, 20], "format": "d", "title": "Cooper ng/m³", "titleX": 116, "titleY": 36, "titleBaseline": "middle", "labelPadding": 3}},
    "y": {"field": "y", "type": "quantitative", "scale": {"domain": [0, 20], "nice": false}, "axis": {"values": [0, 5, 10, 15, 20], "format": "d", "title": "MNU ng/m³", "titleX": -61, "titleY": 79.5, "titleBaseline": "middle", "labelPadding": 7}},
    "color": {"field": "el", "type": "nominal", "scale": {"domain": ["Si","Ca","S","Cl","Al","Mg","K","Fe","Mn","Zn","Ti","Pb","Ba","Br","AS","Cr","Se","V","Cu"], "range": ["#e5393a","#7bbf4b","#f4b25b","#3c55a4","#e5393a","#3c55a4","#f4b25b","#7bbf4b","#e5393a","#7bbf4b","#f4b25b","#3c55a4","#e5393a","#f4b25b","#7bbf4b","#e5393a","#f4b25b","#e5393a","#f4b25b"]}, "legend": null}}},
  {"data": {"name": "leg"}, "transform": [{"filter": "datum.p == 5"}], "mark": {"type": "text", "align": "left", "baseline": "middle", "fontSize": 11.5, "font": "Liberation Sans", "color": "#231f20"},
   "encoding": {"x": {"field": "c", "type": "quantitative", "scale": {"domain": [0, 1], "range": [17, 88]}, "axis": null}, "y": {"field": "r", "type": "quantitative", "scale": {"domain": [0, 1], "range": [-42, 7]}, "axis": null}, "text": {"field": "el"}}},
  {"data": {"name": "leg"}, "transform": [{"filter": "datum.p == 5"}], "mark": {"type": "text", "align": "left", "baseline": "middle", "fontSize": 11.5, "font": "Liberation Sans", "color": "#231f20", "dy": 15},
   "encoding": {"x": {"field": "c", "type": "quantitative", "scale": {"domain": [0, 1], "range": [17, 88]}, "axis": null}, "y": {"field": "r", "type": "quantitative", "scale": {"domain": [0, 1], "range": [-42, 7]}, "axis": null}, "text": {"field": "eq"}}},
  {"data": {"name": "leg"}, "transform": [{"filter": "datum.p == 5"}], "mark": {"type": "text", "align": "left", "baseline": "middle", "fontSize": 11.5, "font": "Liberation Sans", "color": "#231f20", "dy": 30},
   "encoding": {"x": {"field": "c", "type": "quantitative", "scale": {"domain": [0, 1], "range": [17, 88]}, "axis": null}, "y": {"field": "r", "type": "quantitative", "scale": {"domain": [0, 1], "range": [-42, 7]}, "axis": null}, "text": {"field": "r2"}}},
  {"data": {"name": "leg"}, "transform": [{"filter": "datum.p == 5"}], "mark": {"type": "point", "shape": "M-1,-0.3L1,-0.3L1,0.3L-1,0.3Z", "size": 289, "filled": true, "opacity": 1, "strokeWidth": 0, "xOffset": 30},
   "encoding": {"x": {"field": "c", "type": "quantitative", "scale": {"domain": [0, 1], "range": [17, 88]}, "axis": null}, "y": {"field": "r", "type": "quantitative", "scale": {"domain": [0, 1], "range": [-42, 7]}, "axis": null},
    "color": {"field": "el", "type": "nominal", "scale": {"domain": ["Si","Ca","S","Cl","Al","Mg","K","Fe","Mn","Zn","Ti","Pb","Ba","Br","AS","Cr","Se","V","Cu"], "range": ["#e5393a","#7bbf4b","#f4b25b","#3c55a4","#e5393a","#3c55a4","#f4b25b","#7bbf4b","#e5393a","#7bbf4b","#f4b25b","#3c55a4","#e5393a","#f4b25b","#7bbf4b","#e5393a","#f4b25b","#e5393a","#f4b25b"]}, "legend": null}}}
 ]},
{"width": 219, "height": 156, "resolve": {"scale": {"x": "independent", "y": "independent"}},
 "layer": [
  {"data": {"name": "pts"}, "transform": [{"filter": "datum.p == 6"}], "mark": {"type": "point", "filled": false, "size": 105, "strokeWidth": 1.7, "opacity": 1},
   "encoding": {"x": {"field": "x", "type": "quantitative", "scale": {"domain": [0, 14], "nice": false}, "axis": {"values": [0, 2, 4, 6, 8, 10, 12, 14], "format": "d", "title": "Cooper ng/m³", "titleX": 127, "titleY": 39, "titleBaseline": "middle", "labelPadding": 3}},
    "y": {"field": "y", "type": "quantitative", "scale": {"domain": [0, 14], "nice": false}, "axis": {"values": [0, 2, 4, 6, 8, 10, 12, 14], "format": "d", "title": "MNU ng/m³", "titleX": -51, "titleY": 85, "titleBaseline": "middle", "labelPadding": 7}},
    "color": {"field": "el", "type": "nominal", "scale": {"domain": ["Si","Ca","S","Cl","Al","Mg","K","Fe","Mn","Zn","Ti","Pb","Ba","Br","AS","Cr","Se","V","Cu"], "range": ["#e5393a","#7bbf4b","#f4b25b","#3c55a4","#e5393a","#3c55a4","#f4b25b","#7bbf4b","#e5393a","#7bbf4b","#f4b25b","#3c55a4","#e5393a","#f4b25b","#7bbf4b","#e5393a","#f4b25b","#e5393a","#f4b25b"]}, "legend": null}}},
  {"data": {"name": "leg"}, "transform": [{"filter": "datum.p == 6"}], "mark": {"type": "text", "align": "left", "baseline": "middle", "fontSize": 11.5, "font": "Liberation Sans", "color": "#231f20"},
   "encoding": {"x": {"field": "c", "type": "quantitative", "scale": {"domain": [0, 1], "range": [17, 80]}, "axis": null}, "y": {"field": "r", "type": "quantitative", "scale": {"domain": [0, 1], "range": [-40, 9]}, "axis": null}, "text": {"field": "el"}}},
  {"data": {"name": "leg"}, "transform": [{"filter": "datum.p == 6"}], "mark": {"type": "text", "align": "left", "baseline": "middle", "fontSize": 11.5, "font": "Liberation Sans", "color": "#231f20", "dy": 15},
   "encoding": {"x": {"field": "c", "type": "quantitative", "scale": {"domain": [0, 1], "range": [17, 80]}, "axis": null}, "y": {"field": "r", "type": "quantitative", "scale": {"domain": [0, 1], "range": [-40, 9]}, "axis": null}, "text": {"field": "eq"}}},
  {"data": {"name": "leg"}, "transform": [{"filter": "datum.p == 6"}], "mark": {"type": "text", "align": "left", "baseline": "middle", "fontSize": 11.5, "font": "Liberation Sans", "color": "#231f20", "dy": 30},
   "encoding": {"x": {"field": "c", "type": "quantitative", "scale": {"domain": [0, 1], "range": [17, 80]}, "axis": null}, "y": {"field": "r", "type": "quantitative", "scale": {"domain": [0, 1], "range": [-40, 9]}, "axis": null}, "text": {"field": "r2"}}},
  {"data": {"name": "leg"}, "transform": [{"filter": "datum.p == 6"}], "mark": {"type": "point", "shape": "M-1,-0.3L1,-0.3L1,0.3L-1,0.3Z", "size": 289, "filled": true, "opacity": 1, "strokeWidth": 0, "xOffset": 27},
   "encoding": {"x": {"field": "c", "type": "quantitative", "scale": {"domain": [0, 1], "range": [17, 80]}, "axis": null}, "y": {"field": "r", "type": "quantitative", "scale": {"domain": [0, 1], "range": [-40, 9]}, "axis": null},
    "color": {"field": "el", "type": "nominal", "scale": {"domain": ["Si","Ca","S","Cl","Al","Mg","K","Fe","Mn","Zn","Ti","Pb","Ba","Br","AS","Cr","Se","V","Cu"], "range": ["#e5393a","#7bbf4b","#f4b25b","#3c55a4","#e5393a","#3c55a4","#f4b25b","#7bbf4b","#e5393a","#7bbf4b","#f4b25b","#3c55a4","#e5393a","#f4b25b","#7bbf4b","#e5393a","#f4b25b","#e5393a","#f4b25b"]}, "legend": null}}}
 ]}
], "spacing": 103, "bounds": "flush"}
],
"config": {
 "view": {"stroke": null},
 "font": "Liberation Sans",
 "axis": {"grid": false, "domainColor": "#000000", "domainWidth": 3, "domainCap": "square", "tickColor": "#000000", "tickWidth": 2.5, "tickSize": 7, "labelFont": "Liberation Sans", "labelFontSize": 13, "labelColor": "#231f20", "titleFont": "Liberation Sans", "titleFontSize": 16.5, "titleFontWeight": "normal", "titleColor": "#231f20", "labelFlush": false, "labelOverlap": false}
}
}
